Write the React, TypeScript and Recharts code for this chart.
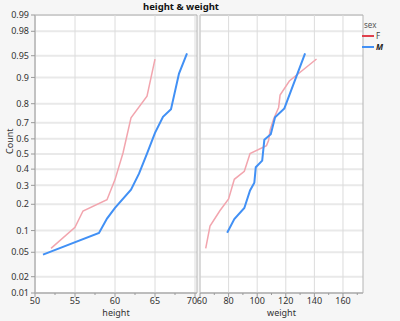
import { LineChart, Line, XAxis, YAxis, CartesianGrid, ReferenceLine, ReferenceArea } from 'recharts';

// normal quantile plot of Big Class: height & weight by sex
const probTicks = [0.01, 0.02, 0.05, 0.1, 0.2, 0.3, 0.4, 0.5, 0.6, 0.7, 0.8, 0.9, 0.95, 0.98, 0.99];
const heightTicks = [50, 55, 60, 65, 70];
const heightMinor = [52.5, 57.5, 62.5, 67.5];
const weightTicks = [60, 80, 100, 120, 140, 160];
const weightMinor = [70, 90, 110, 130, 150, 170];

const heightF = [52, 55, 56, 59, 60, 61, 62, 64, 65];
const heightFProb = [0.057, 0.11, 0.17, 0.222, 0.334, 0.507, 0.727, 0.833, 0.944];
const heightM = [51, 58, 59, 60, 62, 63, 64, 65, 66, 67, 68, 69];
const heightMProb = [0.046, 0.093, 0.14, 0.184, 0.275, 0.371, 0.503, 0.638, 0.733, 0.773, 0.911, 0.954];

const weightF = [64, 67, 74, 80, 84, 91, 95, 106.5, 108, 109, 111.5, 115, 116, 122.5, 141.5];
const weightFProb = [0.057, 0.114, 0.172, 0.226, 0.336, 0.386, 0.503, 0.556, 0.591, 0.655, 0.721, 0.782, 0.838, 0.889, 0.944];
const weightM = [79, 84, 91, 95, 98, 99, 103.5, 105, 109.5, 112.5, 119, 133.5];
const weightMProb = [0.094, 0.138, 0.183, 0.271, 0.315, 0.412, 0.456, 0.594, 0.63, 0.731, 0.777, 0.954];

const PINK = '#f2a5ae';
const BLUE = '#4190f5';
const FONT = '"Noto Sans", "DejaVu Sans", sans-serif';

// inverse normal CDF (Acklam)
function probit(p: number): number {
  const a = [-39.69683028665376, 220.9460984245205, -275.9285104469687, 138.357751867269, -30.66479806614716, 2.506628277459239];
  const b = [-54.47609879822406, 161.5858368580409, -155.6989798598866, 66.80131188771972, -13.28068155288572];
  const c = [-0.007784894002430293, -0.3223964580411365, -2.400758277161838, -2.549732539343734, 4.374664141464968, 2.938163982698783];
  const d = [0.007784695709041462, 0.3224671290700398, 2.445134137142996, 3.754408661907416];
  const pl = 0.02425;
  if (p < pl) {
    const q = Math.sqrt(-2 * Math.log(p));
    return (((((c[0] * q + c[1]) * q + c[2]) * q + c[3]) * q + c[4]) * q + c[5]) / ((((d[0] * q + d[1]) * q + d[2]) * q + d[3]) * q + 1);
  }
  if (p > 1 - pl) {
    const q = Math.sqrt(-2 * Math.log(1 - p));
    return -(((((c[0] * q + c[1]) * q + c[2]) * q + c[3]) * q + c[4]) * q + c[5]) / ((((d[0] * q + d[1]) * q + d[2]) * q + d[3]) * q + 1);
  }
  const q = p - 0.5;
  const r = q * q;
  return ((((((a[0] * r + a[1]) * r + a[2]) * r + a[3]) * r + a[4]) * r + a[5]) * q) / (((((b[0] * r + b[1]) * r + b[2]) * r + b[3]) * r + b[4]) * r + 1);
}

const toRows = (vals: number[], probs: number[]) => vals.map((v, i) => ({ v, z: probit(probs[i]) }));

const zTicks = probTicks.map(probit);
const zDomain: [number, number] = [probit(0.01), probit(0.99)];
const heightDomain: [number, number] = [50, 70.25];
const weightDomain: [number, number] = [60, 174];

const XTick = (props: any) => {
  const { x, y, payload, major, nudge } = props;
  const isMajor = major.includes(payload.value);
  const dx = nudge && nudge[payload.value] ? nudge[payload.value] : 0;
  return (
    <g>
      <line x1={x} x2={x} y1={y - 5} y2={y - 5 + (isMajor ? 4 : 2)} stroke="#9a9a9a" />
      {isMajor && (
        <text x={x + dx} y={y} dy="0.71em" textAnchor="middle" fontSize={9} fill="#333" fontFamily={FONT}>
          {payload.value}
        </text>
      )}
    </g>
  );
};

function Panel(props: {
  width: number;
  left: number;
  right: number;
  domain: [number, number];
  major: number[];
  minor: number[];
  nudge: Record<number, number>;
  label: string;
  f: { v: number; z: number }[];
  m: { v: number; z: number }[];
  showY: boolean;
}) {
  const { width, left, right, domain, major, minor, nudge, label, f, m, showY } = props;
  const allTicks = [...major, ...minor].sort((p, q) => p - q);
  return (
    <LineChart width={width} height={321} margin={{ top: 15, right, bottom: 0, left }}>
      <CartesianGrid fill="#fff" vertical={false} stroke="#e9e9e9" strokeWidth={2} />
      {major.map((t) => (
        <ReferenceLine key={t} x={t} stroke="#dcdcdc" />
      ))}
      <XAxis
        dataKey="v"
        type="number"
        domain={domain}
        allowDataOverflow
        ticks={allTicks}
        interval={0}
        height={28}
        tickSize={4}
        tickMargin={1}
        tickLine={false}
        axisLine={{ stroke: '#aaa' }}
        tick={(p: any) => <XTick {...p} major={major} nudge={nudge} />}
        label={{ value: label, position: 'insideBottom', offset: 5, fontSize: 9, fill: '#333', fontFamily: FONT }}
      />
      <YAxis
        type="number"
        domain={zDomain}
        allowDataOverflow
        ticks={zTicks}
        interval={0}
        hide={!showY}
        width={showY ? 35 : 0}
        tickSize={4}
        tickMargin={2}
        tickLine={{ stroke: '#9a9a9a' }}
        axisLine={{ stroke: '#aaa' }}
        tick={{ fontSize: 9, fill: '#333', fontFamily: FONT }}
        tickFormatter={(_v: number, i: number) => String(probTicks[i])}
        label={{ value: 'Count', angle: -90, position: 'insideLeft', offset: 10, fontSize: 9, fill: '#333', fontFamily: FONT }}
      />
      <ReferenceArea x1={domain[0]} x2={domain[1]} y1={zDomain[0]} y2={zDomain[1]} fill="none" stroke="#b4b4b4" ifOverflow="visible" />
      <Line data={f} dataKey="z" type="linear" stroke={PINK} strokeWidth={1.5} dot={false} isAnimationActive={false} />
      <Line data={m} dataKey="z" type="linear" stroke={BLUE} strokeWidth={2} dot={false} isAnimationActive={false} />
    </LineChart>
  );
}

export default function App() {
  return (
    <div style={{ position: 'fixed', left: 0, top: 0, width: 400, height: 321, background: '#f6f6f6', fontFamily: FONT }}>
      <div style={{ position: 'absolute', left: 0, top: 0 }}>
        <Panel
          width={200}
          left={0}
          right={3}
          domain={heightDomain}
          major={heightTicks}
          minor={heightMinor}
          nudge={{ 70: -3 }}
          label="height"
          f={toRows(heightF, heightFProb)}
          m={toRows(heightM, heightMProb)}
          showY
        />
      </div>
      <div style={{ position: 'absolute', left: 185, top: 0 }}>
        <Panel
          width={215}
          left={15}
          right={37}
          domain={weightDomain}
          major={weightTicks}
          minor={weightMinor}
          nudge={{ 60: 2 }}
          label="weight"
          f={toRows(weightF, weightFProb)}
          m={toRows(weightM, weightMProb)}
          showY={false}
        />
      </div>
      <div style={{ position: 'absolute', left: 140, top: 0, width: 82, textAlign: 'center', fontSize: 9.5, fontWeight: 700, lineHeight: '13px', color: '#111' }}>
        height &amp; weight
      </div>
      <div style={{ position: 'absolute', left: 364, top: 20, fontSize: 8, color: '#555', lineHeight: '9px' }}>sex</div>
      <div style={{ position: 'absolute', left: 362, top: 31, height: 9, display: 'flex', alignItems: 'center', fontSize: 8, color: '#444', lineHeight: '9px' }}>
        <span style={{ display: 'inline-block', width: 12, height: 2, background: '#e0404c', marginRight: 2 }} />F
      </div>
      <div style={{ position: 'absolute', left: 362, top: 42, height: 9, display: 'flex', alignItems: 'center', fontSize: 8, color: '#222', lineHeight: '9px', fontWeight: 700, fontStyle: 'italic' }}>
        <span style={{ display: 'inline-block', width: 12, height: 2, background: BLUE, marginRight: 2 }} />M
      </div>
    </div>
  );
}
